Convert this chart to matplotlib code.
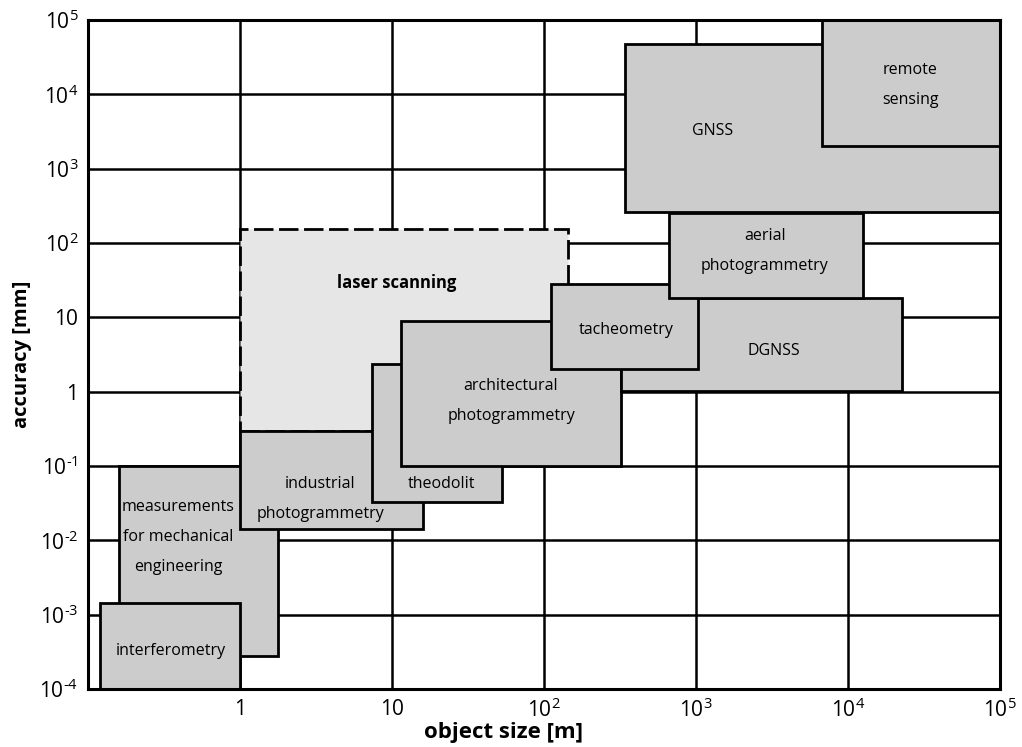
import numpy as np
import matplotlib
matplotlib.use('Agg')
from matplotlib import pyplot as plt
from matplotlib.patches import Rectangle

plt.rcParams['font.family'] = ['Open Sans', 'DejaVu Sans']
plt.rcParams['mathtext.fontset'] = 'custom'
plt.rcParams['mathtext.rm'] = 'Open Sans'

# measuring techniques: object size range [m] and accuracy range [mm]
names = ['laser scanning', 'measurements\nfor mechanical\nengineering', 'interferometry',
         'industrial\nphotogrammetry', 'theodolit', 'architectural\nphotogrammetry',
         'DGNSS', 'tacheometry', 'aerial\nphotogrammetry', 'GNSS', 'remote\nsensing']
size_min = [1, 0.16, 0.12, 1, 7.4, 11.5, 320, 111, 667, 341, 6770]
size_max = [143, 1.77, 1, 16, 53, 320, 22750, 1026, 12500, 1e5, 1e5]
acc_min = [0.3, 2.8e-4, 1e-4, 0.0142, 0.033, 0.1, 1.02, 2.02, 18.4, 263, 2020]
acc_max = [155, 0.1, 1.45e-3, 0.296, 2.36, 9.0, 18.4, 27.9, 254, 47600, 1e5]

# where the label of each box sits (object size, accuracy)
label_x = [10.8, 0.39, 0.35, 3.36, 21, 60.7, 3260, 346, 2844, 1294, 25600]
label_y = [28.9, 0.0111, 3.24e-4, 0.036, 0.0573, 0.75, 3.5, 6.7, 78, 3215, 13400]

x_ticks = [1, 10, 1e2, 1e3, 1e4, 1e5]
x_ticklabels = ['1', '10', r'$10^2$', r'$10^3$', r'$10^4$', r'$10^5$']
y_ticks = [1e-4, 1e-3, 1e-2, 1e-1, 1, 10, 1e2, 1e3, 1e4, 1e5]
y_ticklabels = [r'$10^{\text{-}4}$', r'$10^{\text{-}3}$', r'$10^{\text{-}2}$', r'$10^{\text{-}1}$',
                '1', '10', r'$10^2$', r'$10^3$', r'$10^4$', r'$10^5$']

fig = plt.figure(figsize=(10.22, 7.47), dpi=100)
ax = fig.add_axes([88/1022, 1-689/747, 912/1022, 669/747])
ax.set_xscale('log')
ax.set_yscale('log')
ax.set_xlim(0.1, 1e5)
ax.set_ylim(1e-4, 1e5)

for i in range(len(names)):
    if names[i] == 'laser scanning':
        fc, ls, fw, fs = '#e6e6e6', (0, (7, 2)), 'bold', 12
    else:
        fc, ls, fw, fs = '#cccccc', '-', 'normal', 11.5
    r = Rectangle((size_min[i], acc_min[i]), size_max[i]-size_min[i], acc_max[i]-acc_min[i],
                  facecolor=fc, edgecolor='k', lw=2.0, linestyle=ls, zorder=2+i*0.01)
    ax.add_patch(r)
    ax.text(label_x[i], label_y[i], names[i], ha='center', va='center', fontsize=fs,
            fontweight=fw, linespacing=2.2, zorder=5)

ax.set_axisbelow(True)
ax.grid(True, which='major', color='k', lw=1.8)
ax.minorticks_off()
ax.set_xticks(x_ticks)
ax.set_xticklabels(x_ticklabels)
ax.set_yticks(y_ticks)
ax.set_yticklabels(y_ticklabels)
ax.tick_params(length=0, labelsize=15, pad=7)
for s in ax.spines.values():
    s.set_linewidth(2.2)
    s.set_zorder(6)

ax.set_xlabel('object size [m]', fontsize=16, fontweight='bold', va='center')
ax.xaxis.set_label_coords(0.456, -0.065)
ax.set_ylabel('accuracy [mm]', fontsize=14.5, fontweight='bold', va='center')
ax.yaxis.set_label_coords(-0.072, 0.5)

plt.savefig('out.png', dpi=100)
